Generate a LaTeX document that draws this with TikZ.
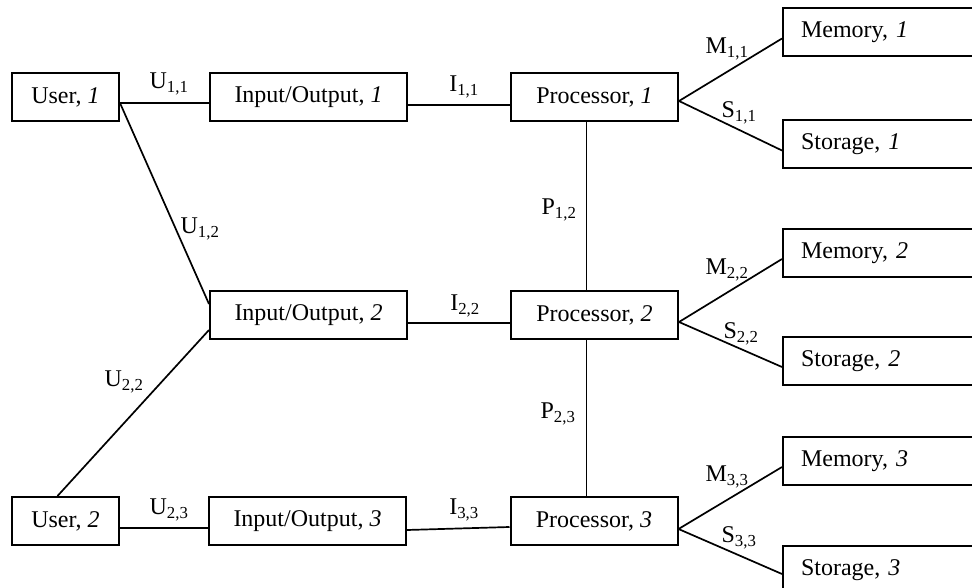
\documentclass[tikz,border=0pt]{standalone}
\usepackage{fontspec}
\setmainfont{Liberation Serif}
\begin{document}
\begin{tikzpicture}[x=1pt,y=-1pt,
  box/.style={draw, line width=2pt, minimum height=48pt, inner sep=0pt, font=\fontsize{24}{28}\selectfont},
  side/.style={box, anchor=west, text width=175pt, inner xsep=18pt, align=left},
  link/.style={line width=1.7pt},
  lab/.style={inner sep=0pt, font=\fontsize{24}{28}\selectfont}]
\useasboundingbox (0,0) rectangle (972,588);
\clip (0,0) rectangle (972,588);
% boxes
\node[box, minimum width=107pt] (u1) at (65.5,97) {User, \textit{1}};
\node[box, minimum width=197pt] (io1) at (308.5,97) {Input/Output, \textit{1}};
\node[box, minimum width=167pt] (p1) at (594.5,97) {Processor, \textit{1}};
\node[side] (m1) at (782,32.5) {Memory, \textit{1}};
\node[side] (s1) at (782,144.5) {Storage, \textit{1}};
\node[box, minimum width=197pt] (io2) at (308.5,315) {Input/Output, \textit{2}};
\node[box, minimum width=167pt] (p2) at (594.5,315) {Processor, \textit{2}};
\node[side] (m2) at (782,253) {Memory, \textit{2}};
\node[side] (s2) at (782,361) {Storage, \textit{2}};
\node[box, minimum width=107pt] (u2) at (65.5,521) {User, \textit{2}};
\node[box, minimum width=197pt] (io3) at (307.5,521) {Input/Output, \textit{3}};
\node[box, minimum width=167pt] (p3) at (594,521) {Processor, \textit{3}};
\node[side] (m3) at (782,461) {Memory, \textit{3}};
\node[side] (s3) at (782,570) {Storage, \textit{3}};
% connectors
\draw[link] ([yshift=-6pt]u1.east) -- ([yshift=-6pt]io1.west);
\draw[link] ([yshift=-8pt]io1.east) -- ([yshift=-8pt]p1.west);
\draw[link] ([yshift=-6pt]u1.east) -- ([yshift=11pt]io2.west);
\draw[link] ([xshift=-8pt]u2.north) -- ([yshift=-15pt]io2.west);
\draw[link] ([yshift=-8pt]io2.east) -- ([yshift=-8pt]p2.west);
\draw[link] ([yshift=-7pt]u2.east) -- ([yshift=-7pt]io3.west);
\draw[link] ([yshift=-9pt]io3.east) -- ([yshift=-6pt]p3.west);
\draw[link] ([xshift=-8pt]p1.south) -- ([xshift=-8pt]p2.north);
\draw[link] ([xshift=-8pt]p2.south) -- ([xshift=-7.5pt]p3.north);
\draw[link] ([yshift=-4pt]p1.east) -- ([yshift=-6pt]m1.west);
\draw[link] ([yshift=-4pt]p1.east) -- ([yshift=-6pt]s1.west);
\draw[link] ([yshift=-7pt]p2.east) -- ([yshift=-6pt]m2.west);
\draw[link] ([yshift=-7pt]p2.east) -- ([yshift=-6pt]s2.west);
\draw[link] ([yshift=-8pt]p3.east) -- ([yshift=-6pt]m3.west);
\draw[link] ([yshift=-8pt]p3.east) -- ([yshift=-4pt]s3.west);
% labels
\node[lab] (lu11) at (169,84) {U\textsubscript{1,1}};
\node[lab] (li11) at (464,87) {I\textsubscript{1,1}};
\node[lab] (lm11) at (727,49) {M\textsubscript{1,1}};
\node[lab] (ls11) at (739,113) {S\textsubscript{1,1}};
\node[lab] (lp12) at (559,210) {P\textsubscript{1,2}};
\node[lab] (lu12) at (200,229) {U\textsubscript{1,2}};
\node[lab] (lm22) at (727,270) {M\textsubscript{2,2}};
\node[lab] (li22) at (465,306) {I\textsubscript{2,2}};
\node[lab] (ls22) at (741,334) {S\textsubscript{2,2}};
\node[lab] (lu22) at (124,382) {U\textsubscript{2,2}};
\node[lab] (lp23) at (558,414) {P\textsubscript{2,3}};
\node[lab] (lm33) at (727,477) {M\textsubscript{3,3}};
\node[lab] (lu23) at (169,510) {U\textsubscript{2,3}};
\node[lab] (li33) at (464,510) {I\textsubscript{3,3}};
\node[lab] (ls33) at (739,538) {S\textsubscript{3,3}};
\end{tikzpicture}
\end{document}
